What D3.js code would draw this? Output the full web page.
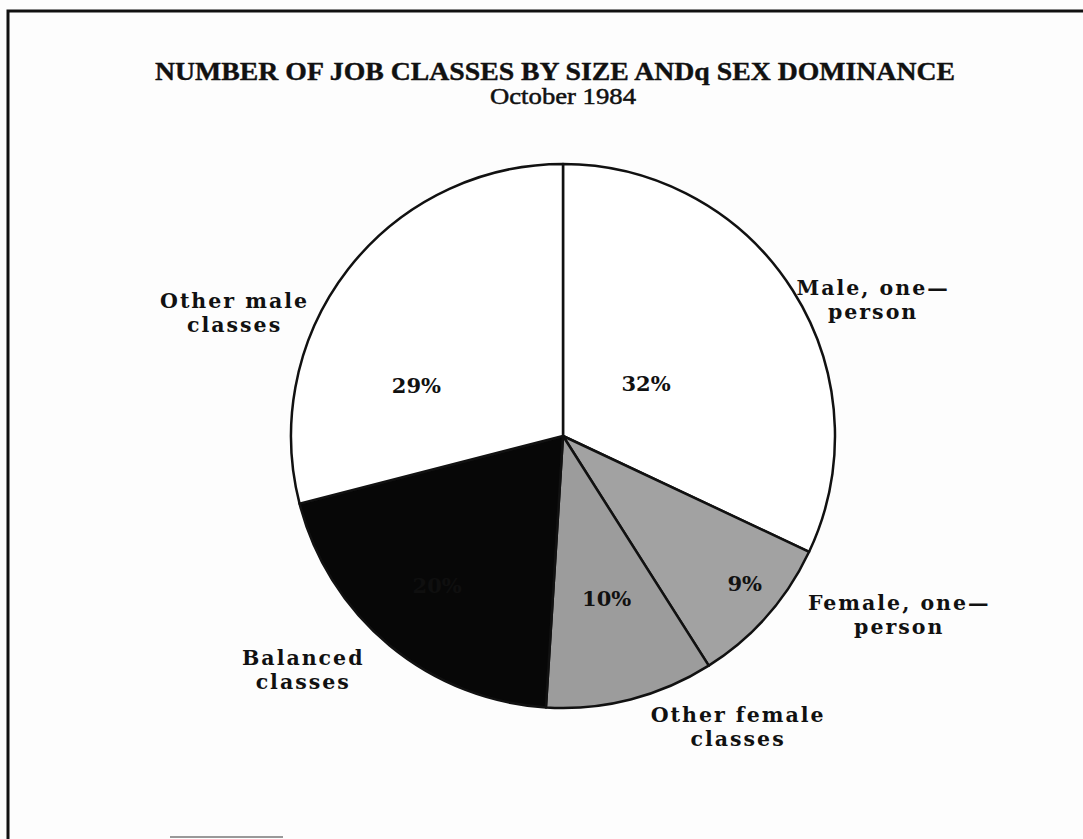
<!DOCTYPE html>
<html>
<head>
<meta charset="utf-8">
<script src="https://cdn.jsdelivr.net/npm/d3@7"></script>
<style>
  html, body { margin: 0; padding: 0; background: #fdfdfd; }
  svg { display: block; }
</style>
</head>
<body>
<svg id="chart" width="1083" height="839"></svg>
<script>
// ---- data ----
const categories = ["Male, one-person", "Female, one-person", "Other female classes", "Balanced classes", "Other male classes"];
const values = [32, 9, 10, 20, 29];
const valueLabels = ["32%", "9%", "10%", "20%", "29%"];
const labelLines = [["Male, one\u2014", "person"], ["Female, one\u2014", "person"], ["Other female", "classes"], ["Balanced", "classes"], ["Other male", "classes"]];
const fills = ["#ffffff", "#a2a2a2", "#9c9c9c", "#070707", "#ffffff"];
const titleText = "NUMBER OF JOB CLASSES BY SIZE ANDq SEX DOMINANCE";
const subtitleText = "October 1984";

// ---- layout ----
const W = 1083, H = 839;
const cx = 563, cy = 436, r = 272;
// polar placement for text (degrees clockwise from north, radius as fraction of r)
const pctPlace = [[58, 0.36], [129, 0.86], [165, 0.62], [220, 0.72], [289, 0.57]];
const outPlace = [[66.3, 1.245], [118, 1.40], [149, 1.25], [228, 1.285], [290.6, 1.29]];

const svg = d3.select("#chart");

// frame
svg.append("path")
  .attr("d", `M8,${H} L8,11 L${W},11`)
  .attr("fill", "none").attr("stroke", "#111").attr("stroke-width", 3);

// title
svg.append("text")
  .attr("x", 555).attr("y", 80)
  .attr("text-anchor", "middle")
  .attr("font-family", "Liberation Serif, Times New Roman, serif")
  .attr("font-size", 26)
  .attr("font-weight", 600)
  .attr("stroke", "#111").attr("stroke-width", 0.4)
  .attr("textLength", 800).attr("lengthAdjust", "spacingAndGlyphs")
  .attr("fill", "#111")
  .text(titleText);
svg.append("text")
  .attr("x", 563).attr("y", 104)
  .attr("text-anchor", "middle")
  .attr("font-family", "Liberation Serif, Times New Roman, serif")
  .attr("font-size", 23)
  .attr("stroke", "#111").attr("stroke-width", 0.5)
  .attr("textLength", 146).attr("lengthAdjust", "spacingAndGlyphs")
  .attr("fill", "#111")
  .text(subtitleText);

// pie
const pie = d3.pie().sort(null).value(d => d)(values);
const arc = d3.arc().innerRadius(0).outerRadius(r);
const g = svg.append("g").attr("transform", `translate(${cx},${cy})`);
g.selectAll("path.slice").data(pie).join("path")
  .attr("class", "slice")
  .attr("d", arc)
  .attr("fill", (d, i) => fills[i])
  .attr("stroke", "#111")
  .attr("stroke-width", 2.5)
  .attr("stroke-linejoin", "round");

function polar(deg, frac) {
  const a = deg * Math.PI / 180;
  return [Math.sin(a) * r * frac, -Math.cos(a) * r * frac];
}

// percent labels
g.selectAll("text.pct").data(pie).join("text")
  .attr("class", "pct")
  .attr("transform", (d, i) => { const p = polar(pctPlace[i][0], pctPlace[i][1]); return `translate(${p[0]},${p[1]})`; })
  .attr("text-anchor", "middle")
  .attr("dy", "0.35em")
  .attr("font-family", "DejaVu Serif, serif")
  .attr("font-weight", "bold")
  .attr("font-size", 21)
  .attr("fill", (d, i) => i === 3 ? "#0f0f0f" : "#111")
  .text((d, i) => valueLabels[i]);

// outer category labels (each line its own text)
pie.forEach((d, i) => {
  const p = polar(outPlace[i][0], outPlace[i][1]);
  labelLines[i].forEach((line, k) => {
    g.append("text")
      .attr("class", "cat")
      .attr("x", p[0]).attr("y", p[1] - 5 + k * 24)
      .attr("text-anchor", "middle")
      .attr("font-family", "DejaVu Serif, serif")
      .attr("font-weight", "bold")
      .attr("font-size", 20.5)
      .attr("letter-spacing", 2)
      .attr("fill", "#111")
      .text(line);
  });
});

// small grey bar at bottom
svg.append("line").attr("x1", 170).attr("x2", 283).attr("y1", 837).attr("y2", 837)
  .attr("stroke", "#999").attr("stroke-width", 2);
</script>
</body>
</html>
